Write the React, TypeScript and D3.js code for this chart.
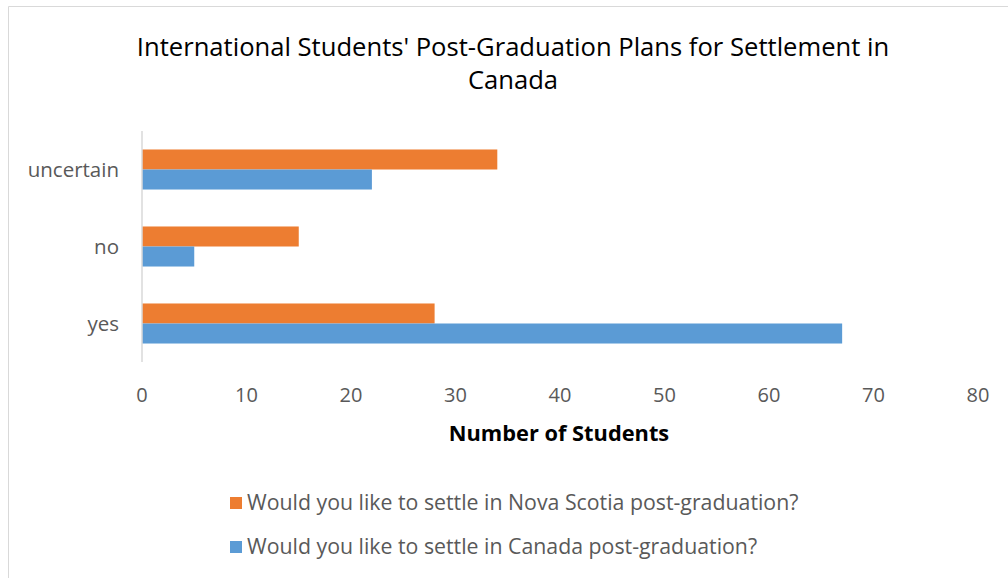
import React from "react";
import * as d3 from "d3";

const categories = ["uncertain", "no", "yes"];
const seriesNames = [
  "Would you like to settle in Nova Scotia post-graduation?",
  "Would you like to settle in Canada post-graduation?",
];
const novaScotia = [34, 15, 28];
const canada = [22, 5, 67];
const xTicks = [0, 10, 20, 30, 40, 50, 60, 70, 80];
const colors = ["#ED7D31", "#5B9BD5"];

const W = 1008;
const H = 578;
const FONT = "'Open Sans', sans-serif";

export default function App() {
  const x = d3.scaleLinear().domain([0, 80]).range([142, 978]);
  const y = d3.scaleBand().domain(categories).range([131, 362]).paddingInner(0.48).paddingOuter(0.24);
  const sub = d3.scaleBand().domain(["0", "1"]).range([0, y.bandwidth()]);
  const series = [novaScotia, canada];

  return (
    <svg width={W} height={H} style={{ position: "absolute", left: 0, top: 0 }}>
      <rect x={0} y={0} width={W} height={H} fill="#fff" />
      <path d={`M8.5,${H} V6.5 H${W}`} fill="none" stroke="#d9d9d9" strokeWidth={1} />
      <text x={513} y={47} dy="0.35em" textAnchor="middle" fontFamily={FONT} fontSize={25.6} fill="#000">
        International Students' Post-Graduation Plans for Settlement in
      </text>
      <text x={513} y={80} dy="0.35em" textAnchor="middle" fontFamily={FONT} fontSize={25.6} fill="#000">
        Canada
      </text>
      {categories.map((c, i) => (
        <g key={c}>
          {series.map((s, j) => (
            <rect
              key={j}
              x={x(0)}
              y={(y(c) as number) + (sub(String(j)) as number)}
              width={x(s[i]) - x(0)}
              height={sub.bandwidth()}
              fill={colors[j]}
            />
          ))}
          <text
            x={119}
            y={(y(c) as number) + y.bandwidth() / 2}
            dy="0.35em"
            textAnchor="end"
            fontFamily={FONT}
            fontSize={20.5}
            fill="#595959"
          >
            {c}
          </text>
        </g>
      ))}
      <line x1={142} x2={142} y1={131} y2={362} stroke="#d9d9d9" strokeWidth={1.5} />
      {xTicks.map((t) => (
        <text key={t} x={x(t)} y={395} dy="0.35em" textAnchor="middle" fontFamily={FONT} fontSize={20} fill="#595959">
          {t}
        </text>
      ))}
      <text x={559} y={433} dy="0.35em" textAnchor="middle" fontFamily={FONT} fontSize={21.8} fontWeight="bold" fill="#000">
        Number of Students
      </text>
      {seriesNames.map((n, j) => (
        <g key={n}>
          <rect x={230} y={497 + j * 44} width={12} height={12} fill={colors[j]} />
          <text x={247} y={503 + j * 44} dy="0.35em" fontFamily={FONT} fontSize={21.3} fill="#595959">
            {n}
          </text>
        </g>
      ))}
    </svg>
  );
}
